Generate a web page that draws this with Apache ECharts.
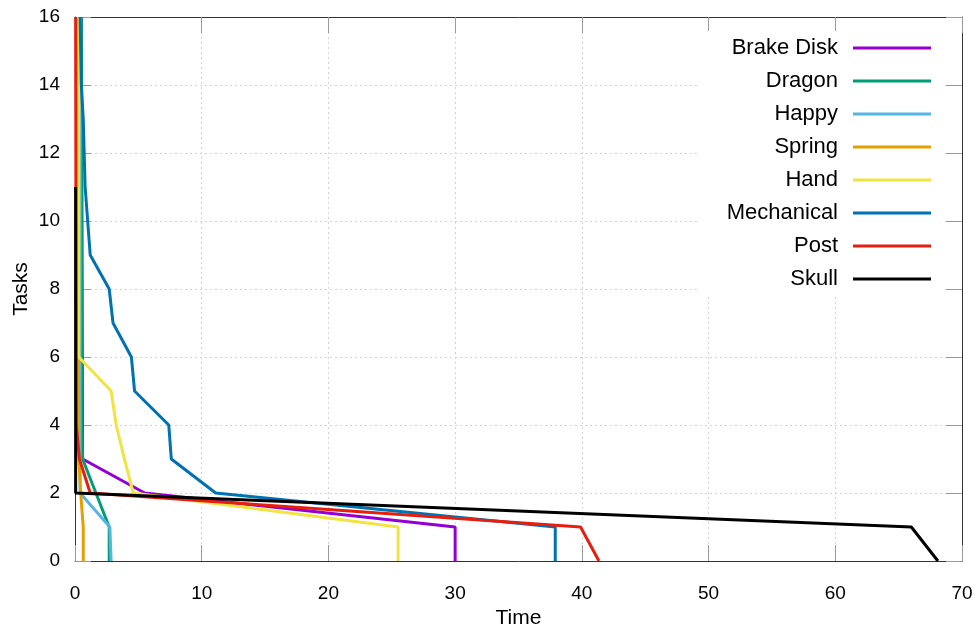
<!DOCTYPE html>
<html>
<head>
<meta charset="utf-8">
<title>Tasks over time</title>
<script src="https://cdn.jsdelivr.net/npm/echarts@6.0.0/dist/echarts.min.js"></script>
<style>
    html, body { margin: 0; padding: 0; background: #fff; }
    #main { width: 974px; height: 628px; }
</style>
</head>
<body>
<div id="main"></div>
<script>
'use strict';

// [time, tasks] pairs
var brake_disk = [[0.5, 16], [0.6, 3], [5.5, 2], [30, 1], [30, 0]];
var dragon = [[0.5, 16], [0.55, 4], [0.6, 3], [1.65, 2], [2.7, 1], [2.7, 0]];
var happy = [[0.4, 16], [0.4, 2], [2.75, 1], [2.85, 0]];
var spring = [[0.25, 16], [0.3, 3], [0.45, 2], [0.65, 1], [0.65, 0]];
var hand = [[0.3, 16], [0.3, 6], [2.85, 5], [3.25, 4], [3.9, 3], [4.6, 2], [25.5, 1], [25.5, 0]];
var mechanical = [[0.4, 16], [0.5, 14], [0.65, 13], [0.8, 11], [1.2, 9], [2.7, 8], [3.0, 7],
    [4.45, 6], [4.7, 5], [7.4, 4], [7.6, 3], [11.1, 2], [37.9, 1], [37.9, 0]];
var post = [[0.05, 16], [0.1, 4], [0.35, 3], [1.2, 2], [39.9, 1], [41.35, 0]];
var skull = [[0.05, 11], [0.05, 2], [66, 1], [68.1, 0]];

var series_names = ['Brake Disk', 'Dragon', 'Happy', 'Spring', 'Hand', 'Mechanical', 'Post', 'Skull'];
var series_data = [brake_disk, dragon, happy, spring, hand, mechanical, post, skull];
var series_colors = ['#9400d3', '#009e73', '#56b4e9', '#e69f00', '#f0e442', '#0072b2', '#e51e10', '#000000'];

var font = '"Liberation Sans", Arial, sans-serif';

function frameAxis(type, pos, show_label, min, max, step, name) {
    return {
        type: 'value',
        position: pos,
        min: min,
        max: max,
        interval: step,
        name: name,
        nameLocation: 'middle',
        nameGap: type == 'x' ? 47 : 43,
        nameMoveOverlap: false,
        nameTextStyle: { fontFamily: font, fontSize: 21, color: '#000' },
        axisLine: { show: true, onZero: false, lineStyle: { color: '#333', width: 1 } },
        axisTick: { show: true, inside: true, length: 16, lineStyle: { color: '#999', width: 1 } },
        axisLabel: {
            show: show_label,
            margin: type == 'x' ? 23 : 15,
            fontFamily: font,
            fontSize: 19,
            color: '#000'
        },
        splitLine: {
            show: show_label,
            lineStyle: { color: '#d4d4d4', type: [2, 3], width: 1 }
        }
    };
}

var my_chart = echarts.init(document.getElementById('main'));

var series_arr = [];
for (var i = 0; i < series_names.length; i++) {
    series_arr.push({
        name: series_names[i],
        type: 'line',
        xAxisIndex: 0,
        yAxisIndex: 0,
        data: series_data[i],
        showSymbol: false,
        symbol: 'none',
        lineStyle: { width: 3, color: series_colors[i] },
        itemStyle: { color: series_colors[i] },
        z: 2 + i
    });
}

my_chart.setOption({
    animation: false,
    backgroundColor: '#fff',
    grid: { left: 75, right: 12, top: 17, bottom: 67, containLabel: false, outerBoundsMode: 'none' },
    legend: {
        orient: 'vertical',
        right: 29,
        top: 31,
        align: 'right',
        icon: 'rect',
        itemWidth: 78,
        itemHeight: 3,
        itemGap: 11,
        padding: [6, 14, 7, 28],
        backgroundColor: '#fff',
        data: series_names,
        textStyle: {
            fontFamily: font,
            fontSize: 22,
            color: '#000',
            lineHeight: 22,
            padding: [0, 10, 0, 0]
        }
    },
    xAxis: [
        frameAxis('x', 'bottom', true, 0, 70, 10, 'Time'),
        frameAxis('x', 'top', false, 0, 70, 10, '')
    ],
    yAxis: [
        frameAxis('y', 'left', true, 0, 16, 2, 'Tasks'),
        frameAxis('y', 'right', false, 0, 16, 2, '')
    ],
    series: series_arr
});
</script>
</body>
</html>
